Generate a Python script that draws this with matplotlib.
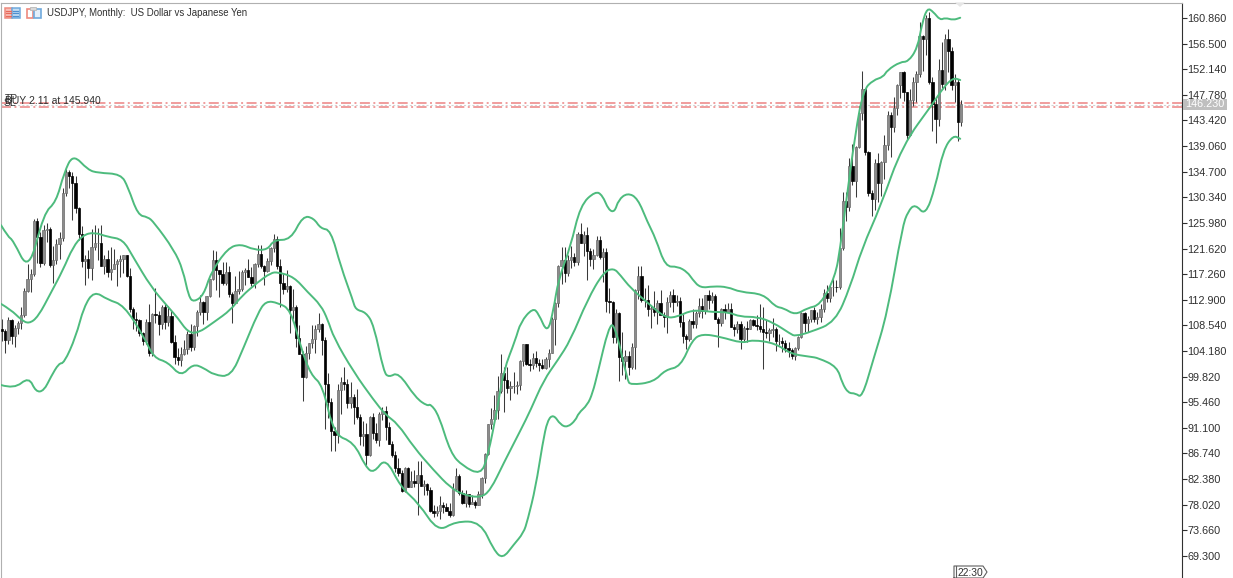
import matplotlib
matplotlib.use('Agg')
import matplotlib.pyplot as plt
from matplotlib.patches import Rectangle, Polygon, PathPatch
from matplotlib.path import Path

plt.rcParams['font.family'] = ['Liberation Sans', 'DejaVu Sans']
plt.rcParams['lines.scale_dashes'] = False

# monthly bars, May 2000 .. May 2025
opens = [
    108.0, 107.6, 106.1, 109.5, 106.7, 108.1, 108.9, 110.3,
    114.4, 116.5, 117.3, 126.3, 123.6, 119.1, 124.7, 125.0, 118.9, 119.6, 122.4, 123.4,
    131.0, 134.7, 133.9, 132.7, 128.5, 124.1, 119.5, 119.9, 118.3, 121.8, 122.5, 122.5,
    118.7, 119.9, 117.6, 118.1, 119.0, 119.5, 119.8, 120.5, 117.0, 111.4, 109.7, 109.5,
    107.2, 105.9, 109.1, 103.9, 110.4, 110.3, 108.8, 111.7, 109.2, 110.1, 105.8, 103.1,
    102.6, 103.6, 104.6, 107.1, 104.9, 108.5, 110.9, 112.6, 110.9, 113.5, 116.4, 119.7,
    117.9, 117.3, 115.8, 117.7, 113.9, 112.4, 114.4, 114.7, 117.6, 118.0, 116.8, 115.8,
    119.0, 120.7, 118.7, 117.8, 119.5, 121.7, 123.2, 118.6, 115.8, 114.8, 115.3, 111.2,
    111.7, 106.4, 103.7, 99.7, 103.9, 105.5, 106.2, 107.9, 108.8, 106.0, 98.5, 95.5,
    90.6, 89.9, 97.6, 98.9, 98.6, 95.3, 96.3, 94.7, 93.0, 89.7, 90.0, 86.5,
    93.0, 90.3, 89.0, 93.5, 94.0, 91.3, 88.4, 86.5, 84.2, 83.5, 80.4, 84.2,
    81.1, 82.0, 81.8, 83.1, 81.2, 81.5, 80.5, 77.0, 76.6, 77.0, 78.0, 77.6,
    76.9, 76.3, 80.7, 82.9, 80.1, 78.3, 79.8, 78.1, 78.4, 77.9, 79.8, 82.5,
    86.7, 91.7, 92.6, 94.2, 97.4, 100.5, 99.2, 97.9, 98.2, 98.3, 98.4, 102.4,
    105.3, 102.0, 101.8, 103.0, 102.2, 101.8, 101.3, 102.8, 103.9, 109.6, 112.3, 118.6,
    119.7, 117.5, 119.6, 120.1, 119.4, 124.1, 122.5, 123.9, 121.2, 119.9, 120.6, 123.1,
    120.2, 121.1, 112.7, 112.6, 106.5, 110.7, 103.2, 102.4, 103.4, 101.4, 104.8, 114.5,
    116.9, 112.8, 112.8, 111.4, 111.5, 110.8, 112.4, 110.3, 110.0, 112.5, 113.7, 112.5,
    112.7, 109.2, 106.7, 106.3, 109.3, 108.8, 110.7, 111.8, 111.0, 113.7, 112.9, 113.5,
    109.7, 108.9, 111.4, 110.9, 111.4, 108.3, 107.9, 108.8, 106.3, 108.1, 108.0, 109.5,
    108.6, 108.4, 107.9, 107.5, 107.2, 107.8, 107.9, 105.9, 105.9, 105.5, 104.7, 104.3,
    103.3, 104.7, 106.6, 110.7, 108.9, 109.6, 111.1, 109.7, 110.0, 111.3, 114.0, 113.2,
    115.1, 115.1, 115.0, 121.7, 129.7, 128.7, 135.7, 133.2, 138.9, 144.7, 148.7, 138.0,
    131.1, 130.1, 136.2, 132.8, 136.3, 139.3, 144.3, 142.3, 145.5, 149.4, 151.7, 148.2,
    141.0, 146.9, 150.0, 151.3, 157.8, 157.2, 160.9, 150.0, 146.2, 143.6, 152.0, 149.7,
    157.2, 155.2, 149.5, 149.9, 143.1,
]
highs = [
    109.6, 107.9, 110.0, 109.7, 108.6, 109.3, 111.7, 114.9,
    119.0, 118.1, 126.6, 126.8, 124.4, 125.6, 126.0, 125.3, 122.0, 123.3, 124.5, 131.9,
    135.1, 135.0, 134.7, 133.9, 128.7, 125.5, 120.6, 121.3, 125.0, 125.6, 125.2, 125.7,
    120.5, 121.4, 121.8, 121.5, 119.9, 120.5, 120.5, 120.5, 118.3, 111.6, 110.9, 109.7,
    107.4, 109.7, 112.2, 110.6, 114.9, 111.0, 112.0, 112.2, 111.8, 111.0, 106.9, 104.7,
    104.9, 106.0, 107.6, 108.8, 108.6, 111.2, 113.7, 112.7, 113.6, 116.4, 121.4, 121.2,
    118.0, 119.4, 119.4, 118.7, 114.3, 117.0, 117.8, 118.0, 118.3, 119.9, 118.5, 119.1,
    122.2, 122.2, 118.9, 120.0, 121.8, 124.1, 123.7, 119.8, 117.4, 117.9, 115.4, 114.7,
    112.0, 108.6, 104.1, 105.0, 105.6, 108.6, 108.6, 110.7, 108.9, 106.5, 100.5, 96.2,
    91.3, 98.6, 99.7, 101.4, 99.5, 98.9, 96.8, 97.8, 93.4, 92.3, 92.0, 93.1,
    93.7, 91.9, 93.8, 94.7, 94.9, 92.1, 88.9, 87.2, 85.9, 84.0, 84.4, 84.5,
    83.7, 84.0, 85.5, 85.5, 82.2, 81.7, 81.0, 77.9, 77.8, 79.5, 78.4, 78.3,
    78.3, 81.7, 84.2, 83.3, 80.6, 80.6, 79.9, 79.7, 78.9, 80.4, 82.8, 86.8,
    91.7, 94.5, 96.7, 99.9, 103.7, 101.5, 101.5, 99.1, 100.6, 99.0, 102.6, 105.4,
    105.4, 102.8, 103.8, 104.1, 102.8, 102.8, 103.1, 104.5, 110.0, 112.5, 118.9, 121.8,
    121.8, 120.5, 122.0, 120.8, 124.5, 125.9, 124.6, 125.3, 121.7, 121.5, 123.8, 123.7,
    121.7, 121.7, 114.9, 112.7, 111.4, 110.9, 107.5, 104.3, 104.2, 105.5, 114.8, 118.7,
    118.6, 114.9, 115.5, 111.8, 114.4, 112.9, 114.5, 110.9, 113.3, 114.4, 114.7, 113.7,
    113.4, 110.5, 107.0, 109.6, 111.4, 111.0, 113.2, 113.2, 113.7, 114.5, 114.2, 113.8,
    110.0, 111.5, 112.1, 112.4, 112.3, 108.8, 109.3, 109.3, 108.5, 109.3, 109.7, 109.7,
    110.3, 112.2, 111.7, 109.4, 108.1, 109.8, 108.2, 107.0, 106.5, 106.1, 105.7, 104.7,
    104.9, 106.7, 110.9, 110.9, 110.2, 111.1, 111.7, 110.8, 112.1, 114.7, 115.5, 115.4,
    116.4, 116.3, 125.1, 131.2, 131.3, 137.0, 139.4, 139.1, 145.9, 151.9, 148.8, 138.2,
    131.6, 136.9, 137.9, 136.6, 140.9, 145.1, 144.9, 147.4, 149.7, 151.7, 151.9, 148.2,
    148.8, 150.9, 151.9, 160.2, 157.9, 161.3, 161.9, 150.9, 147.2, 153.9, 156.7, 158.1,
    158.9, 155.9, 151.3, 150.5, 146.9,
]
lows = [
    105.9, 103.9, 105.4, 105.4, 104.9, 107.0, 107.9, 110.0,
    114.3, 114.2, 117.0, 119.2, 118.5, 118.9, 122.7, 118.5, 115.8, 119.0, 119.9, 122.9,
    130.5, 132.0, 126.4, 127.6, 123.1, 118.4, 115.4, 116.6, 116.2, 121.4, 119.6, 118.7,
    117.3, 116.7, 116.2, 118.1, 115.2, 116.7, 117.4, 116.7, 110.9, 107.9, 107.6, 106.7,
    105.2, 105.3, 103.4, 103.4, 108.9, 106.9, 108.0, 108.0, 108.5, 105.6, 102.0, 101.8,
    101.7, 103.5, 103.6, 104.1, 104.4, 106.7, 110.3, 108.8, 109.4, 113.3, 116.3, 114.5,
    113.4, 115.5, 115.5, 113.3, 108.9, 112.4, 113.9, 114.4, 115.4, 116.8, 115.2, 114.9,
    118.5, 118.3, 115.4, 117.6, 118.9, 121.1, 118.2, 111.6, 113.9, 114.2, 107.2, 109.6,
    104.9, 103.7, 95.7, 99.6, 102.9, 104.7, 103.8, 107.5, 103.5, 90.9, 92.7, 87.1,
    87.1, 88.6, 93.5, 97.6, 94.5, 94.4, 91.7, 92.6, 88.2, 88.0, 84.8, 86.3,
    89.2, 88.5, 88.1, 92.5, 89.1, 88.4, 86.2, 83.6, 82.9, 80.2, 80.2, 81.1,
    81.0, 81.0, 76.3, 81.2, 79.6, 79.7, 76.8, 75.9, 76.1, 75.6, 76.6, 76.9,
    76.0, 76.1, 80.6, 79.7, 78.2, 77.7, 77.6, 78.1, 77.4, 77.9, 79.1, 81.7,
    86.5, 90.9, 92.6, 92.6, 97.1, 93.8, 97.0, 95.8, 97.1, 96.9, 97.6, 101.6,
    101.8, 100.8, 101.2, 101.4, 100.8, 101.1, 101.1, 101.5, 103.8, 105.2, 111.6, 115.6,
    115.9, 116.9, 118.3, 118.6, 118.9, 122.5, 120.4, 116.2, 118.6, 118.1, 120.3, 119.9,
    115.9, 110.9, 110.7, 105.6, 105.5, 99.0, 100.1, 99.5, 100.1, 101.2, 101.2, 113.1,
    112.5, 111.6, 110.1, 108.1, 110.2, 108.8, 110.6, 108.3, 107.3, 111.7, 110.8, 111.9,
    108.3, 105.5, 104.6, 105.9, 108.1, 108.1, 109.9, 109.8, 110.4, 111.4, 112.3, 109.6,
    104.9, 108.5, 109.7, 110.8, 108.3, 106.8, 107.2, 104.5, 105.7, 105.7, 107.9, 108.4,
    107.7, 107.5, 101.2, 106.4, 105.9, 106.6, 104.2, 105.2, 104.0, 104.0, 103.2, 102.9,
    102.6, 104.4, 106.4, 107.5, 107.5, 109.2, 109.1, 108.7, 109.1, 110.8, 112.5, 112.5,
    113.5, 114.2, 114.7, 121.3, 126.3, 128.0, 132.5, 130.4, 138.7, 143.5, 137.5, 130.6,
    127.2, 128.1, 129.6, 130.6, 133.5, 138.4, 137.2, 141.5, 144.4, 147.3, 146.7, 140.3,
    140.8, 145.9, 146.5, 150.8, 151.9, 154.5, 149.6, 141.7, 139.6, 142.5, 148.9, 148.6,
    151.7, 148.6, 146.5, 139.9, 142.4,
]
closes = [
    107.6, 106.1, 109.5, 106.7, 108.1, 108.9, 110.3, 114.4,
    116.5, 117.3, 126.3, 123.6, 119.1, 124.7, 125.0, 118.9, 119.6, 122.4, 123.4, 131.0,
    134.7, 133.9, 132.7, 128.5, 124.1, 119.5, 119.9, 118.3, 121.8, 122.5, 122.5, 118.7,
    119.9, 117.6, 118.1, 119.0, 119.5, 119.8, 120.5, 117.0, 111.4, 109.7, 109.5, 107.2,
    105.9, 109.1, 103.9, 110.4, 110.3, 108.8, 111.7, 109.2, 110.1, 105.8, 103.1, 102.6,
    103.6, 104.6, 107.1, 104.9, 108.5, 110.9, 112.6, 110.9, 113.5, 116.4, 119.7, 117.9,
    117.3, 115.8, 117.7, 113.9, 112.4, 114.4, 114.7, 117.6, 118.0, 116.8, 115.8, 119.0,
    120.7, 118.7, 117.8, 119.5, 121.7, 123.2, 118.6, 115.8, 114.8, 115.3, 111.2, 111.7,
    106.4, 103.7, 99.7, 103.9, 105.5, 106.2, 107.9, 108.8, 106.0, 98.5, 95.5, 90.6,
    89.9, 97.6, 98.9, 98.6, 95.3, 96.3, 94.7, 93.0, 89.7, 90.0, 86.5, 93.0,
    90.3, 89.0, 93.5, 94.0, 91.3, 88.4, 86.5, 84.2, 83.5, 80.4, 84.2, 81.1,
    82.0, 81.8, 83.1, 81.2, 81.5, 80.5, 77.0, 76.6, 77.0, 78.0, 77.6, 76.9,
    76.3, 80.7, 82.9, 80.1, 78.3, 79.8, 78.1, 78.4, 77.9, 79.8, 82.5, 86.7,
    91.7, 92.6, 94.2, 97.4, 100.5, 99.2, 97.9, 98.2, 98.3, 98.4, 102.4, 105.3,
    102.0, 101.8, 103.0, 102.2, 101.8, 101.3, 102.8, 103.9, 109.6, 112.3, 118.6, 119.7,
    117.5, 119.6, 120.1, 119.4, 124.1, 122.5, 123.9, 121.2, 119.9, 120.6, 123.1, 120.2,
    121.1, 112.7, 112.6, 106.5, 110.7, 103.2, 102.4, 103.4, 101.4, 104.8, 114.5, 116.9,
    112.8, 112.8, 111.4, 111.5, 110.8, 112.4, 110.3, 110.0, 112.5, 113.7, 112.5, 112.7,
    109.2, 106.7, 106.3, 109.3, 108.8, 110.7, 111.8, 111.0, 113.7, 112.9, 113.5, 109.7,
    108.9, 111.4, 110.9, 111.4, 108.3, 107.9, 108.8, 106.3, 108.1, 108.0, 109.5, 108.6,
    108.4, 107.9, 107.5, 107.2, 107.8, 107.9, 105.9, 105.9, 105.5, 104.7, 104.3, 103.3,
    104.7, 106.6, 110.7, 108.9, 109.6, 111.1, 109.7, 110.0, 111.3, 114.0, 113.2, 115.1,
    115.1, 115.0, 121.7, 129.7, 128.7, 135.7, 133.2, 138.9, 144.7, 148.7, 138.0, 131.1,
    130.1, 136.2, 132.8, 136.3, 139.3, 144.3, 142.3, 145.5, 149.4, 151.7, 148.2, 141.0,
    146.9, 150.0, 151.3, 157.8, 157.2, 160.9, 150.0, 146.2, 143.6, 152.0, 149.7, 157.2,
    155.2, 149.5, 149.9, 143.1, 146.23,
]

# bollinger lines (bar number, price)
upper_x = [-0.3, 1.9, 3.4, 8.4, 13.1, 16.9, 19.4, 22.2, 26.9, 30, 37.2, 39.4, 42.5, 45.6, 47.5, 53.8,
           56.6, 58.4, 60, 63.1, 65.3, 70.6, 74.7, 78.8, 83.1, 85, 90.3, 94.1, 97.5, 99.7, 102.8, 106,
           109.7, 110.6, 113.8, 116.3, 119.4, 121, 124, 129.4, 133.1, 134, 136.6, 140.3, 144.1, 149.7,
           151.9, 155, 156.9, 160.6, 162.2, 166, 167.8, 170.6, 172.5, 174, 177.8, 180.9, 185.6, 187.8,
           189.7, 191.6, 192.8, 195.6, 198.8, 201.9, 204.4, 207.5, 211.3, 214.4, 215.9, 218.4, 222.5,
           226.9, 230.9, 238.1, 241.9, 244.4, 248.1, 251.9, 255.9, 260.6, 262.2, 263.8, 266.9, 269.4,
           272.5, 275.6, 276.9, 281, 283.4, 286.3, 287.8, 289.4, 291.3, 293.4, 295, 297.5, 299.7]
upper_y = [125.6, 123.6, 123.1, 117.6, 127.7, 129.5, 134.5, 137.7, 135.0, 134.5, 134.3, 132.1, 127.3, 127.0, 126.1, 121.4,
           118.0, 113.4, 112.5, 113.7, 117.5, 121.7, 122.4, 121.4, 121.4, 123.1, 123.1, 127.2, 126.8, 125.0, 124.8, 118.5,
           112.9, 111.2, 110.8, 108.6, 100.6, 99.7, 100.6, 96.2, 94.8, 95.2, 93.3, 86.8, 84.6, 83.1,
           86.1, 94.6, 100.9, 106.1, 109.1, 111.5, 110.6, 107.1, 111.2, 116.3, 121.9, 129.0, 131.4, 130.7,
           128.2, 127.8, 129.9, 131.1, 130.2, 126.1, 123.4, 118.5, 118.6, 117.6, 116.4, 114.9, 115.2,
           115.1, 114.2, 113.9, 111.7, 111.5, 110.3, 111.5, 112.0, 116.8, 121.9, 128.7, 141.3, 148.6,
           150.3, 150.8, 152.0, 153.4, 153.4, 155.7, 160.0, 162.6, 161.9, 160.5, 160.9, 160.5, 160.9]

middle_x = [-0.3, 2.8, 6, 8.4, 11.3, 15.3, 19.1, 22.2, 25.3, 28.8, 33.1, 37.8, 41, 46.6, 51.9, 55, 58.1,
            61.3, 66.3, 71.6, 74.7, 80, 84.1, 86.3, 91.3, 95.6, 99.7, 101.9, 103.8, 110, 116.3, 120,
            123.8, 128.8, 135, 140.3, 144.4, 149.7, 152.8, 156.9, 162.2, 165.3, 169.4, 173.8, 177.8,
            183.1, 188.1, 191.3, 193.4, 196.6, 201.9, 207.5, 211.3, 215.9, 222.5, 227.2, 230.9, 236.3,
            241.3, 246.6, 248.1, 252.8, 260.6, 265.3, 269, 274.7, 281.6, 291.3, 294.4, 297.5, 299.7]
middle_y = [112.2, 111.2, 109.5, 108.8, 110.0, 114.1, 118.0, 121.9, 123.9, 124.4, 123.6, 123.2, 120.2, 115.1, 111.7, 109.8, 107.4,
            107.2, 109.1, 111.2, 113.4, 115.9, 117.5, 117.6, 116.8, 114.2, 112.0, 109.5, 106.4, 100.6, 95.8, 93.3,
            91.8, 87.8, 83.9, 80.9, 79.7, 79.2, 80.5, 85.1, 90.7, 94.1, 99.2, 102.6, 106.0,
            112.9, 117.6, 118.3, 117.1, 114.9, 112.4, 109.8, 110.0, 111.2, 110.8, 110.8, 110.0, 110.0,
            109.0, 107.1, 106.7, 107.4, 109.1, 115.1, 121.7, 128.7, 139.2, 146.4, 149.0, 150.7, 150.3]

lower_x = [-0.3, 3.8, 8.4, 10.6, 13.1, 15.3, 17.8, 19.4, 23.1, 25.6, 28.8, 33.1, 38.1, 44.4, 47.5, 51.9,
           56, 59.7, 63.1, 66.3, 71.6, 75.6, 80, 82.5, 86.3, 90.3, 93.4, 96.6, 100.3, 103.8, 110, 113.8,
           116.3, 120, 124.7, 130.3, 136.3, 141.9, 149.7, 153.8, 156.6, 160, 163.1, 164.4, 166.9, 169.1,
           170.6, 172.5, 174.7, 176.9, 179.4, 180.3, 183.1, 184.7, 186.3, 189.7, 191.6, 195.6, 196.6,
           203.8, 207.5, 212.2, 215.9, 219, 224.7, 231.6, 234.7, 241.9, 246.6, 252.8, 255.3, 261.2,
           262.8, 264.7, 266.9, 269, 272.5, 276.9, 281.6, 283.4, 285.6, 288.8, 291.9, 294.4, 297.5, 299.7]
lower_y = [98.4, 97.7, 99.8, 97.2, 97.4, 99.8, 102.1, 102.1, 106.6, 111.7, 114.4, 112.9, 112.0, 106.6, 103.0, 102.3,
           99.8, 102.0, 101.3, 100.1, 99.8, 104.8, 110.6, 112.7, 112.4, 111.2, 104.9, 100.1, 98.4, 89.9, 88.7, 84.4,
           83.4, 86.1, 81.0, 78.3, 73.4, 75.2, 75.1, 70.3, 68.8, 71.2, 73.2, 75.4, 81.0, 88.5,
           92.4, 93.4, 91.6, 91.2, 92.4, 93.6, 95.0, 97.0, 100.4, 108.2, 108.9, 99.2, 98.4,
           98.9, 101.0, 101.5, 106.1, 107.1, 106.6, 105.5, 106.1, 105.5, 103.7, 103.2, 103.0, 101.5,
           98.7, 97.0, 97.0, 96.2, 102.7, 110.6, 125.3, 128.0, 129.2, 127.2, 132.1, 138.4, 140.9, 140.3]

price_ticks = [160.86, 156.5, 152.14, 147.78, 143.42, 139.06, 134.7, 130.34, 125.98, 121.62, 117.26,
               112.9, 108.54, 104.18, 99.82, 95.46, 91.1, 86.74, 82.38, 78.02, 73.66, 69.3]
order_level = 145.94
tp_level = 146.34
sl_level = 145.66
bid = 146.23

W, H = 1233, 578
fig = plt.figure(figsize=(W / 100, H / 100), dpi=100)
ax = fig.add_axes([1 / W, 0, 1181 / W, 575 / H])

n = range(len(closes))
up = [i for i in n if closes[i] >= opens[i]]
dn = [i for i in n if closes[i] < opens[i]]

# candles
ax.vlines(list(n), lows, highs, color='#3a3a3a', lw=0.75, zorder=2)
ax.bar(up, [closes[i] - opens[i] for i in up], bottom=[opens[i] for i in up], width=0.72,
       facecolor='#8c8c8c', edgecolor='#6a6a6a', lw=0.5, zorder=3)
ax.bar(dn, [opens[i] - closes[i] for i in dn], bottom=[closes[i] for i in dn], width=0.72,
       facecolor='black', edgecolor='black', lw=0.5, zorder=3)


def smooth_band(bx, by):
    # read points are the control points of a quadratic curve, so the corners get rounded
    pts = list(zip(bx, by))
    verts = [pts[0]]
    codes = [Path.MOVETO]
    for a, b in zip(pts[1:-1], pts[2:]):
        verts += [a, ((a[0] + b[0]) / 2, (a[1] + b[1]) / 2)]
        codes += [Path.CURVE3, Path.CURVE3]
    verts.append(pts[-1])
    codes.append(Path.LINETO)
    return PathPatch(Path(verts, codes), fill=False, ec='#4dbb7d', lw=1.4, zorder=4, capstyle='round')


# bands
for bx, by in [(upper_x, upper_y), (middle_x, middle_y), (lower_x, lower_y)]:
    ax.add_patch(smooth_band(bx, by))

# order lines
dash = (0, (7.2, 2.5, 1.4, 2.5))
ax.axhline(tp_level, color='#ee8c8c', lw=1.2, ls=dash, zorder=1)
ax.axhline(sl_level, color='#ee8c8c', lw=1.2, ls=dash, zorder=1)
ax.axhline(146.05, color='#d2d2d2', lw=0.8, ls=(0, (1.5, 1.5)), zorder=1)

ax.set_xlim(-0.31, 369.06)
ax.set_ylim(65.55, 163.41)
ax.set_xticks([])
ax.yaxis.tick_right()
ax.set_yticks(price_ticks)
ax.set_yticklabels(['%.3f' % p for p in price_ticks], fontsize=7.8, color='#303030')
ax.tick_params(axis='y', length=3.5, width=0.8, color='#303030', pad=0.5)
ax.spines['left'].set_color('#b0b0b0')
ax.spines['top'].set_color('#b0b0b0')
ax.spines['right'].set_color('#303030')
ax.spines['bottom'].set_visible(False)

# chrome drawn on top in pixel coordinates
ov = fig.add_axes([0, 0, 1, 1], zorder=10)
ov.set_xlim(0, W)
ov.set_ylim(H, 0)
ov.axis('off')
ov.patch.set_alpha(0)

# header icons
ov.add_patch(Rectangle((4.5, 7.5), 7.5, 10.5, fc='#f9c0b8', ec='#ee8a7e', lw=1.1))
ov.add_patch(Rectangle((12, 7.5), 7.5, 10.5, fc='#c4ddf3', ec='#6fa9dc', lw=1.1))
for yy in (10.5, 13, 15.5):
    ov.plot([6, 11], [yy, yy], color='#e8695b', lw=0.9)
    ov.plot([13, 18], [yy, yy], color='#4d8fd0', lw=0.9)
ov.add_patch(Rectangle((26.5, 8.5), 6.5, 9.5, fc='white', ec='#ee8a7e', lw=1.2))
ov.add_patch(Rectangle((34, 8.5), 6.5, 9.5, fc='#e4effa', ec='#6fa9dc', lw=1.2))
ov.add_patch(Rectangle((30, 7), 6, 3, fc='#d8d8d8', ec='#b8b8b8', lw=0.6))

ov.text(47, 13.2, 'USDJPY, Monthly:  US Dollar vs Japanese Yen', fontsize=6.9, color='#303030',
        ha='left', va='center')

ov.text(5, 98.5, 'TP', fontsize=7.5, color='#303030', ha='left', va='center')
ov.text(4, 103.5, 'SL', fontsize=7.5, color='#303030', ha='left', va='center')
ov.text(5, 100.8, 'BUY 2.11 at %.3f' % order_level, fontsize=7.5, color='#303030', ha='left', va='center')

# bid label
ov.add_patch(Rectangle((1183, 99), 44, 10.5, fc='#bfbfbf', ec='none'))
ov.text(1205, 104.3, '%.3f' % bid, fontsize=7.8, color='white', ha='center', va='center')

# shift marker and countdown
ov.add_patch(Polygon([(955, 2.5), (965, 2.5), (960, 7)], fc='#e6e6e6', ec='none'))
ov.plot([954, 954, 983, 987, 983, 954], [578, 566, 566, 572, 578, 578], color='#606060', lw=0.8)
ov.plot([956, 956], [566, 578], color='#606060', lw=0.8)
ov.text(970.5, 572.5, '22:30', fontsize=7.4, color='#303030', ha='center', va='center')

fig.savefig('out.png', dpi=100)
